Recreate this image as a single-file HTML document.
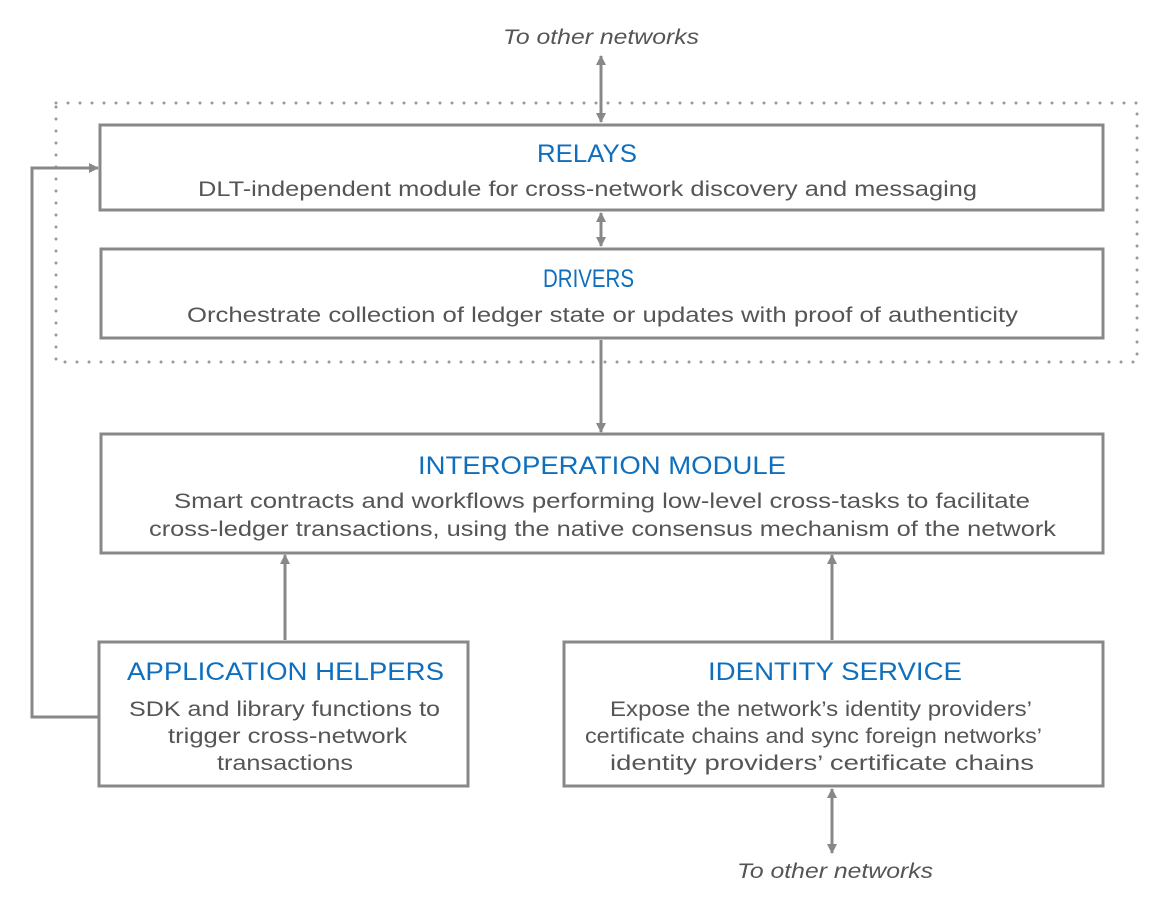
<!DOCTYPE html>
<html><head><meta charset="utf-8"><style>
html,body{margin:0;padding:0;background:#fff}
svg{display:block}
.t{font-family:"Liberation Sans",sans-serif;fill:#0f6fbd;font-size:25px}
.b{font-family:"Liberation Sans",sans-serif;fill:#555;font-size:21px}
.i{font-family:"Liberation Sans",sans-serif;fill:#555;font-size:21px;font-style:italic}
</style></head><body>
<svg width="1169" height="904" viewBox="0 0 1169 904" xmlns="http://www.w3.org/2000/svg">
<defs>
<marker id="a" markerWidth="10" markerHeight="10" refX="9" refY="5" orient="auto-start-reverse" markerUnits="userSpaceOnUse">
<path d="M0,0 L10,5 L0,10 z" fill="#888"/></marker>
</defs>
<rect x="56" y="103" width="1081" height="259" fill="none" stroke="#999" stroke-width="3" stroke-dasharray="0 12" stroke-linecap="round"/>
<g fill="#fff" stroke="#888" stroke-width="3">
<rect x="100" y="125" width="1003" height="85"/>
<rect x="101" y="249" width="1002" height="89"/>
<rect x="101" y="434" width="1002" height="119"/>
<rect x="99" y="642" width="369" height="144"/>
<rect x="564" y="642" width="539" height="144"/>
</g>
<g stroke="#888" stroke-width="3" fill="none">
<line x1="601" y1="56" x2="601" y2="122" marker-start="url(#a)" marker-end="url(#a)"/>
<line x1="601" y1="213" x2="601" y2="246" marker-start="url(#a)" marker-end="url(#a)"/>
<line x1="601" y1="340" x2="601" y2="432" marker-end="url(#a)"/>
<line x1="285" y1="640" x2="285" y2="555" marker-end="url(#a)"/>
<line x1="832" y1="640" x2="832" y2="555" marker-end="url(#a)"/>
<line x1="832" y1="789" x2="832" y2="853" marker-start="url(#a)" marker-end="url(#a)"/>
<polyline points="98,717 32,717 32,168 98,168" marker-end="url(#a)"/>
</g>
<text class="i" x="503" y="44" textLength="196" lengthAdjust="spacingAndGlyphs">To other networks</text>
<text class="t" x="537" y="162" textLength="100" lengthAdjust="spacingAndGlyphs">RELAYS</text>
<text class="b" x="198" y="196" textLength="779" lengthAdjust="spacingAndGlyphs">DLT-independent module for cross-network discovery and messaging</text>
<text class="t" x="543" y="287" textLength="91" lengthAdjust="spacingAndGlyphs">DRIVERS</text>
<text class="b" x="187" y="322" textLength="831" lengthAdjust="spacingAndGlyphs">Orchestrate collection of ledger state or updates with proof of authenticity</text>
<text class="t" x="418" y="474" textLength="368" lengthAdjust="spacingAndGlyphs">INTEROPERATION MODULE</text>
<text class="b" x="174" y="508" textLength="856" lengthAdjust="spacingAndGlyphs">Smart contracts and workflows performing low-level cross-tasks to facilitate</text>
<text class="b" x="149" y="536" textLength="907" lengthAdjust="spacingAndGlyphs">cross-ledger transactions, using the native consensus mechanism of the network</text>
<text class="t" x="127" y="680" textLength="317" lengthAdjust="spacingAndGlyphs">APPLICATION HELPERS</text>
<text class="b" x="129" y="716" textLength="311" lengthAdjust="spacingAndGlyphs">SDK and library functions to</text>
<text class="b" x="168" y="743" textLength="239" lengthAdjust="spacingAndGlyphs">trigger cross-network</text>
<text class="b" x="217" y="770" textLength="136" lengthAdjust="spacingAndGlyphs">transactions</text>
<text class="t" x="708" y="680" textLength="254" lengthAdjust="spacingAndGlyphs">IDENTITY SERVICE</text>
<text class="b" x="610" y="716" textLength="422" lengthAdjust="spacingAndGlyphs">Expose the network’s identity providers’</text>
<text class="b" x="585" y="743" textLength="457" lengthAdjust="spacingAndGlyphs">certificate chains and sync foreign networks’</text>
<text class="b" x="610" y="770" textLength="424" lengthAdjust="spacingAndGlyphs">identity providers’ certificate chains</text>
<text class="i" x="737" y="878" textLength="196" lengthAdjust="spacingAndGlyphs">To other networks</text>
</svg>
</body></html>
